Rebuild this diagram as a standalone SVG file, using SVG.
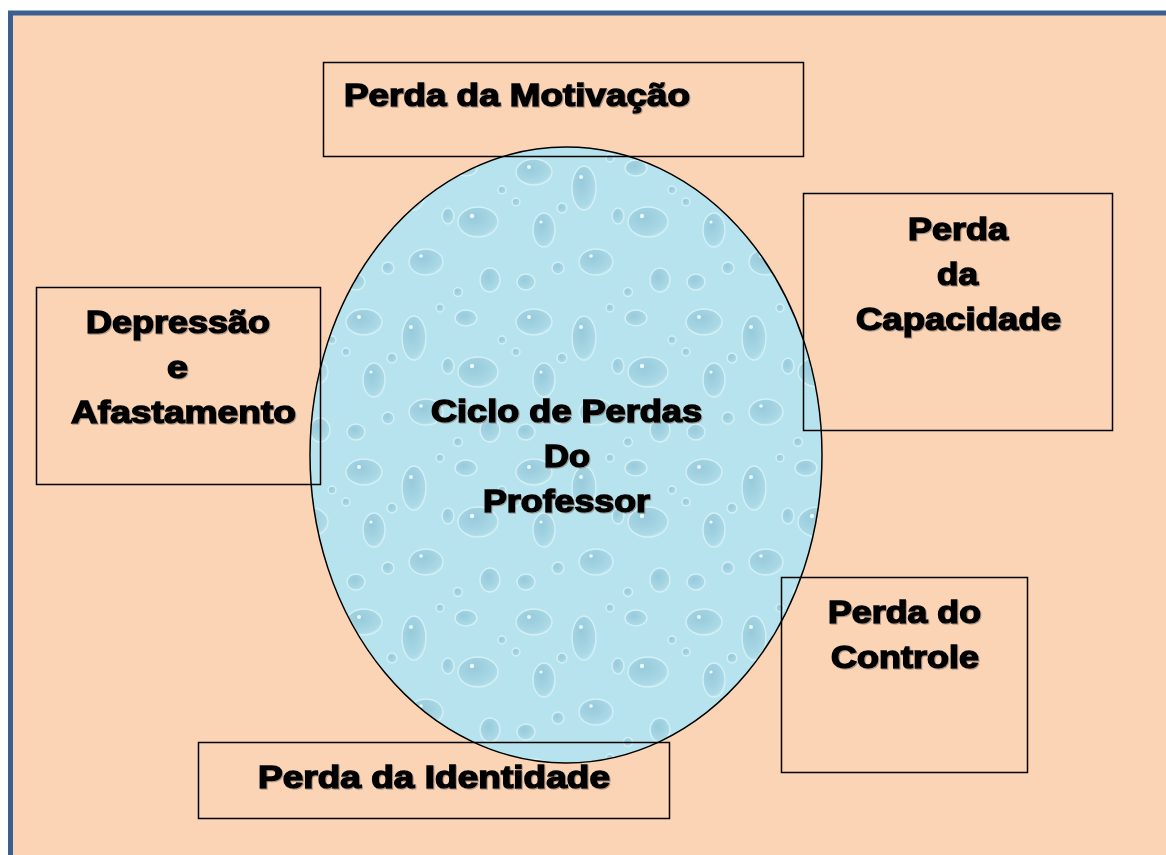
<svg xmlns="http://www.w3.org/2000/svg" width="1166" height="855" viewBox="0 0 1166 855">
<defs>
<style>
.box{fill:none;stroke:#000;stroke-width:1.5}
.lbl{font-family:"Liberation Sans",Arial,sans-serif;font-weight:bold;font-size:31px;fill:#000;stroke:#000;stroke-width:1.5;paint-order:stroke;filter:url(#sh)}
.d{fill:url(#drop);stroke:#d3f0f7;stroke-width:1.4}
.h{fill:#e9f9fc}
</style>
<filter id="sh" x="-5%" y="-20%" width="110%" height="140%">
<feDropShadow dx="1" dy="1" stdDeviation="0.5" flood-color="#807068" flood-opacity="0.6"/>
</filter>
<radialGradient id="drop" cx="0.4" cy="0.35" r="0.75">
<stop offset="0" stop-color="#97cadb"/>
<stop offset="0.75" stop-color="#abd9e6"/>
<stop offset="1" stop-color="#c9ecf4"/>
</radialGradient>
<pattern id="water" patternUnits="userSpaceOnUse" width="170" height="150">
<rect width="170" height="150" fill="#b6e3ee"/>
<ellipse class="d" cx="24" cy="22" rx="18" ry="13"/>
<ellipse class="d" cx="74" cy="38" rx="12" ry="22"/>
<ellipse class="d" cx="126" cy="18" rx="11" ry="8"/>
<ellipse class="d" cx="138" cy="72" rx="20" ry="15"/>
<ellipse class="d" cx="34" cy="80" rx="11" ry="17"/>
<ellipse class="d" cx="86" cy="112" rx="17" ry="13"/>
<ellipse class="d" cx="16" cy="132" rx="9" ry="8"/>
<ellipse class="d" cx="150" cy="130" rx="10" ry="12"/>
<ellipse class="d" cx="108" cy="66" rx="6" ry="8"/>
<circle class="d" cx="52" cy="58" r="5"/>
<circle class="d" cx="118" cy="142" r="4.5"/>
<circle class="d" cx="162" cy="40" r="4"/>
<circle class="d" cx="48" cy="118" r="6"/>
<circle class="d" cx="100" cy="8" r="4"/>
<circle class="d" cx="6" cy="52" r="4"/>
<circle class="h" cx="19" cy="17" r="2"/>
<circle class="h" cx="71" cy="27" r="2"/>
<circle class="h" cx="132" cy="66" r="2.2"/>
<circle class="h" cx="31" cy="72" r="1.6"/>
<circle class="h" cx="81" cy="106" r="1.8"/>
</pattern>
</defs>
<rect x="0" y="0" width="1166" height="855" fill="#ffffff"/>
<rect id="frame" x="10.5" y="13" width="1200" height="900" fill="#fbd4b5" stroke="#3b5f8e" stroke-width="5"/>
<g id="ciclo">
<ellipse cx="566" cy="455" rx="256" ry="308" fill="url(#water)" stroke="#000" stroke-width="1.5"/>
<text class="lbl" x="431" y="422" textLength="271" lengthAdjust="spacingAndGlyphs">Ciclo de Perdas</text>
<text class="lbl" x="544" y="467" textLength="46" lengthAdjust="spacingAndGlyphs">Do</text>
<text class="lbl" x="483" y="512" textLength="167" lengthAdjust="spacingAndGlyphs">Professor</text>
</g>
<g id="connectors"></g>
<g id="motivacao">
<rect class="box" x="323.5" y="62.5" width="480" height="94"/>
<text class="lbl" x="344" y="106" textLength="346" lengthAdjust="spacingAndGlyphs">Perda da Motivação</text>
</g>
<g id="capacidade">
<rect class="box" x="803.5" y="193.5" width="309" height="237"/>
<text class="lbl" x="908" y="240" textLength="100" lengthAdjust="spacingAndGlyphs">Perda</text>
<text class="lbl" x="937" y="285" textLength="41" lengthAdjust="spacingAndGlyphs">da</text>
<text class="lbl" x="856" y="330" textLength="205" lengthAdjust="spacingAndGlyphs">Capacidade</text>
</g>
<g id="depressao">
<rect class="box" x="36.5" y="287.5" width="284" height="197"/>
<text class="lbl" x="86" y="333" textLength="184" lengthAdjust="spacingAndGlyphs">Depressão</text>
<text class="lbl" x="167" y="378" textLength="21" lengthAdjust="spacingAndGlyphs">e</text>
<text class="lbl" x="71" y="423" textLength="225" lengthAdjust="spacingAndGlyphs">Afastamento</text>
</g>
<g id="controle">
<rect class="box" x="781.5" y="577.5" width="246" height="195"/>
<text class="lbl" x="828" y="623" textLength="153" lengthAdjust="spacingAndGlyphs">Perda do</text>
<text class="lbl" x="831" y="668" textLength="148" lengthAdjust="spacingAndGlyphs">Controle</text>
</g>
<g id="identidade">
<rect class="box" x="198.5" y="742.5" width="471" height="76"/>
<text class="lbl" x="258" y="788" textLength="352" lengthAdjust="spacingAndGlyphs">Perda da Identidade</text>
</g>
</svg>
